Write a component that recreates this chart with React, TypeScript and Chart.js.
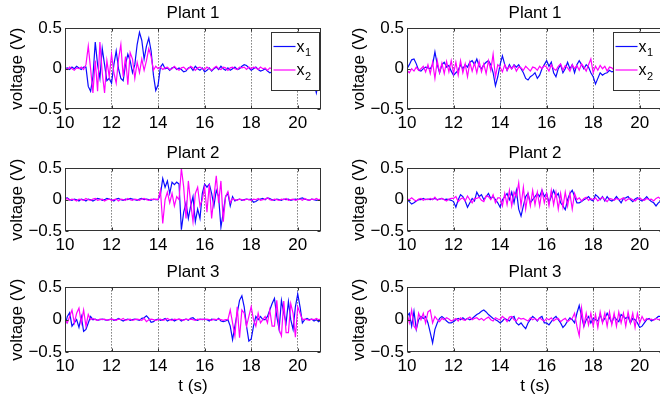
import React, { useEffect, useRef } from "react";
import { Chart, registerables } from "chart.js";

Chart.register(...registerables);

const FONT = "'Liberation Sans', Arial, Helvetica, sans-serif";

// time samples (s): 10.0 ... 21.0, every 0.1 s
const t: number[] = Array.from({ length: 111 }, (_, i) => (100 + i) / 10);

const xTicks = [10, 12, 14, 16, 18, 20];
const yTicks = [-0.5, 0, 0.5];
const yTickLabels = ["\u22120.5", "0", "0.5"];
const seriesNames = ["x1", "x2"];
const seriesColors = ["#0c0cff", "#ff00ff"];
const plantTitles = ["Plant 1", "Plant 2", "Plant 3"];
const yTitle = "voltage (V)";
const xTitle = "t (s)";

// ---------- Plant 1, left ----------
const plant1L_x1 = [
  0.0, 0.01, -0.01, 0.02, 0.0, 0.03, 0.01, -0.01, 0.02, 0.02,
  -0.22, -0.28, -0.1, 0.33, 0.05, -0.12, 0.25, 0.05, -0.15, -0.12,
  -0.18, 0.05, 0.22, 0.0, -0.12, -0.15, 0.05, 0.18, 0.1, -0.05,
  0.05, 0.3, 0.45, 0.35, 0.12, 0.28, 0.38, 0.22, -0.08, -0.27,
  -0.2, 0.02, 0.06, 0.0, 0.01, -0.02, 0.01, 0.02, -0.01, 0.01,
  -0.01, -0.04, -0.03, 0.01, 0.02, -0.02, 0.03, 0.0, -0.02, 0.01,
  -0.04, -0.02, 0.01, -0.03, 0.0, 0.02, -0.01, 0.03, 0.0, -0.02,
  0.01, -0.02, 0.0, 0.02, -0.01, 0.0, 0.03, 0.05, 0.04, 0.01,
  -0.02, 0.0, 0.02, -0.01, -0.03, -0.02, 0.0, -0.03, -0.05, -0.04,
  -0.03, -0.05, -0.03, -0.02, -0.04, -0.02, -0.03, -0.05, -0.03, -0.02,
  -0.03, -0.04, -0.02, -0.03, -0.05, -0.04, -0.08, -0.18, -0.3, -0.15,
  -0.14,
];
const plant1L_x2 = [
  0.01, -0.01, 0.02, 0.0, -0.02, 0.01, 0.0, 0.02, -0.01, 0.05,
  0.28, 0.0, -0.3, 0.1, -0.28, 0.33, -0.05, -0.3, 0.1, -0.1,
  0.18, -0.05, -0.18, 0.12, 0.3, -0.1, 0.15, -0.2, 0.2, 0.12,
  -0.12, 0.08, -0.05, 0.12, -0.02, 0.1, 0.25, 0.15, -0.02, 0.03,
  0.0, 0.02, -0.01, 0.01, 0.02, -0.01, 0.0, 0.03, 0.0, -0.02,
  0.01, 0.02, -0.01, 0.0, 0.03, 0.01, -0.02, 0.01, 0.02, 0.0,
  -0.01, 0.02, 0.0, -0.02, 0.01, 0.03, 0.0, -0.01, 0.02, 0.01,
  -0.02, 0.01, 0.02, 0.0, -0.01, 0.02, 0.01, 0.02, -0.01, 0.02,
  0.0, 0.02, 0.01, -0.01, 0.02, 0.0, 0.01, -0.02, 0.01, 0.0,
  0.01, -0.01, 0.02, 0.0, 0.01, -0.02, 0.01, 0.0, 0.02, -0.01,
  0.0, 0.01, -0.02, 0.01, 0.0, -0.01, 0.02, 0.0, -0.05, 0.05,
  -0.05,
];

// ---------- Plant 1, right ----------
const plant1R_x1 = [
  0.0, 0.05, 0.11, 0.12, 0.06, -0.02, -0.03, 0.0, 0.02, 0.01,
  0.0, 0.05, 0.21, 0.05, -0.05, 0.05, 0.08, 0.02, 0.04, -0.03,
  -0.08, -0.05, -0.02, 0.05, 0.0, 0.05, 0.02, 0.08, 0.1, 0.05,
  0.12, 0.03, 0.0, 0.05, 0.08, 0.1, 0.05, -0.05, -0.21, -0.1,
  0.05, 0.16, 0.05, -0.02, 0.05, 0.0, 0.05, 0.02, 0.05, 0.0,
  -0.05, -0.12, -0.14, -0.1, -0.08, -0.05, -0.12, -0.08, 0.0, 0.05,
  0.1, 0.03, 0.08, -0.05, -0.1, 0.0, 0.05, -0.05, 0.0, 0.08,
  0.0, 0.05, -0.05, 0.05, 0.1, 0.05, 0.0, 0.05, 0.02, -0.05,
  -0.1, -0.19, -0.12, -0.05, -0.08, -0.06, -0.05, -0.02, -0.04, -0.03,
  -0.02, 0.0, 0.02, -0.01, 0.01, 0.0, -0.02, 0.01, 0.0, 0.02,
  0.0, -0.02, 0.01, 0.0, 0.02, -0.01, 0.0, 0.01, -0.01, 0.0,
  0.0,
];
const plant1R_x2 = [
  -0.02, -0.05, 0.0, -0.03, 0.02, -0.02, 0.0, 0.03, -0.04, 0.05,
  -0.06, 0.08, -0.12, 0.1, -0.05, 0.07, -0.06, 0.09, -0.04, 0.1,
  -0.06, 0.08, -0.08, 0.1, -0.05, 0.06, -0.1, 0.08, -0.03, 0.07,
  -0.05, 0.09, -0.04, 0.06, -0.06, 0.1, -0.02, 0.18, -0.1, 0.05,
  0.02, -0.04, 0.05, -0.02, 0.03, 0.0, 0.04, -0.03, 0.02, 0.01,
  -0.02, 0.03, 0.0, -0.03, 0.02, 0.01, -0.02, 0.03, 0.0, 0.04,
  0.02, -0.03, 0.05, 0.0, -0.02, 0.03, 0.06, -0.02, 0.04, 0.01,
  -0.03, 0.05, 0.0, 0.04, -0.02, 0.06, 0.02, -0.03, 0.05, 0.12,
  -0.05, 0.03, -0.02, 0.04, 0.0, 0.03, -0.03, 0.02, 0.01, -0.02,
  0.02, 0.0, -0.02, 0.01, 0.02, -0.01, 0.0, 0.02, -0.02, 0.01,
  0.0, -0.02, 0.03, 0.0, -0.05, 0.02, 0.0, -0.02, 0.01, 0.03,
  0.0,
];

// ---------- Plant 2, left ----------
const plant2L_x1 = [
  0.02, 0.03, 0.0, -0.01, 0.01, 0.0, -0.02, 0.01, 0.0, -0.02,
  0.01, 0.0, -0.02, 0.0, 0.02, 0.01, -0.01, 0.0, 0.02, 0.01,
  0.0, -0.02, 0.01, 0.02, 0.0, -0.01, 0.01, 0.0, 0.02, 0.01,
  0.0, -0.01, 0.01, 0.02, 0.0, 0.01, 0.0, -0.01, 0.01, 0.0,
  0.0, 0.08, 0.34, 0.2, 0.3, 0.1, 0.28, 0.24, 0.28, 0.25,
  -0.48, -0.2, -0.05, -0.3, -0.1, 0.05, -0.35, -0.15, -0.3, 0.1,
  0.25, 0.2, 0.25, 0.1, -0.1, 0.15, 0.05, -0.44, -0.2, 0.05,
  0.1, -0.1, 0.05, -0.02, 0.0, 0.01, -0.01, 0.0, 0.01, 0.0,
  0.01, -0.04, -0.03, 0.0, 0.01, 0.02, 0.0, 0.03, 0.02, 0.0,
  -0.01, 0.01, 0.0, -0.01, 0.01, 0.0, 0.01, -0.01, 0.0, 0.01,
  0.0, 0.02, 0.03, 0.01, 0.0, -0.01, 0.01, 0.0, -0.01, 0.0,
  0.0,
];
const plant2L_x2 = [
  0.0, 0.02, -0.01, 0.01, 0.0, -0.02, 0.01, 0.0, -0.01, 0.02,
  0.0, -0.01, 0.01, 0.02, -0.01, 0.0, 0.01, -0.02, 0.0, 0.01,
  -0.01, 0.0, 0.01, -0.02, 0.01, 0.0, -0.01, 0.02, 0.0, -0.01,
  0.01, 0.0, -0.01, 0.01, 0.02, 0.0, -0.01, 0.01, 0.0, 0.01,
  0.0, 0.15, -0.38, 0.0, 0.12, -0.05, 0.1, -0.1, 0.05, 0.0,
  0.5, 0.2, -0.3, 0.3, -0.05, -0.35, 0.1, 0.2, -0.1, 0.0,
  0.2, -0.2, 0.25, -0.3, 0.05, 0.38, -0.05, 0.3, -0.35, 0.05,
  0.13, -0.05, 0.02, 0.0, -0.01, 0.01, 0.0, -0.01, 0.01, 0.0,
  -0.01, 0.01, 0.0, 0.02, -0.01, 0.0, 0.01, 0.03, 0.0, -0.01,
  0.01, 0.0, -0.01, 0.01, 0.0, 0.02, -0.01, 0.0, 0.01, -0.01,
  0.0, 0.01, -0.01, 0.02, 0.0, -0.01, 0.01, 0.0, 0.02, 0.0,
  0.01,
];

// ---------- Plant 2, right ----------
const plant2R_x1 = [
  0.0, -0.03, -0.07, -0.05, -0.02, 0.0, 0.0, 0.02, 0.0, 0.01,
  0.0, 0.01, 0.02, 0.0, 0.01, 0.02, 0.0, 0.01, 0.0, -0.01,
  -0.03, -0.12, 0.0, 0.08, 0.05, -0.02, -0.12, -0.05, 0.02, -0.02,
  0.12, 0.05, 0.08, 0.0, 0.05, 0.1, 0.02, 0.05, 0.0, -0.05,
  -0.12, 0.0, 0.05, 0.1, 0.0, 0.12, -0.05, 0.15, -0.15, -0.26,
  -0.1, 0.05, 0.1, -0.05, 0.0, 0.05, 0.1, 0.05, 0.15, 0.05,
  0.1, -0.05, 0.05, 0.15, 0.05, 0.1, -0.05, -0.1, -0.16, 0.0,
  0.1, 0.15, 0.05, -0.05, -0.05, -0.03, 0.0, 0.02, 0.05, 0.0,
  -0.02, 0.08, 0.05, 0.0, 0.05, -0.02, 0.05, 0.0, -0.02, 0.0,
  0.05, 0.0, -0.05, 0.02, 0.03, 0.05, 0.0, -0.03, 0.01, 0.03,
  0.0, -0.02, 0.01, 0.05, 0.0, -0.03, -0.05, -0.1, -0.05, -0.02,
  0.0,
];
const plant2R_x2 = [
  0.01, 0.0, 0.03, 0.0, -0.02, 0.01, 0.02, -0.01, 0.01, 0.0,
  0.02, 0.0, 0.04, -0.01, 0.01, 0.02, 0.0, -0.02, 0.01, 0.02,
  0.02, 0.05, -0.03, 0.01, 0.03, -0.02, 0.06, 0.0, -0.05, 0.02,
  0.02, 0.04, -0.01, -0.03, 0.06, 0.05, 0.0, 0.08, -0.05, 0.03,
  0.03, -0.1, 0.1, -0.08, 0.15, -0.1, 0.12, 0.05, 0.27, -0.1,
  0.2, -0.15, 0.1, -0.1, 0.15, -0.08, 0.12, -0.1, 0.15, -0.05,
  0.1, -0.1, 0.15, -0.08, 0.12, -0.15, 0.1, -0.12, 0.12, -0.1,
  0.1, -0.15, 0.1, 0.0, 0.03, -0.02, 0.02, 0.04, -0.01, 0.02,
  0.0, 0.03, -0.02, 0.01, 0.04, 0.0, -0.03, 0.02, 0.01, -0.01,
  0.02, 0.0, 0.01, 0.03, -0.02, 0.01, 0.02, 0.0, -0.02, 0.01,
  0.03, 0.0, -0.01, 0.02, 0.0, 0.01, -0.02, 0.02, 0.04, 0.01,
  0.0,
];

// ---------- Plant 3, left ----------
const plant3L_x1 = [
  -0.1, 0.05, 0.11, -0.1, -0.05, 0.0, -0.12, 0.05, -0.18, -0.15,
  -0.05, 0.05, 0.0, 0.01, -0.01, 0.0, 0.01, 0.0, -0.01, 0.0,
  0.01, -0.01, 0.0, 0.02, 0.0, -0.02, 0.0, 0.01, -0.01, 0.0,
  0.01, 0.0, -0.01, 0.02, 0.03, 0.06, 0.02, -0.04, -0.03, 0.0,
  0.01, -0.01, 0.0, 0.02, -0.02, 0.0, 0.01, -0.02, 0.0, 0.01,
  -0.02, 0.0, 0.01, -0.01, 0.02, 0.03, 0.0, -0.01, 0.01, 0.0,
  0.01, 0.0, -0.02, 0.01, 0.0, -0.01, 0.02, -0.02, -0.03, -0.02,
  0.0, -0.1, -0.31, -0.1, 0.1, 0.3, 0.37, 0.2, -0.1, -0.33,
  -0.3, -0.1, 0.05, 0.0, 0.05, 0.0, 0.0, 0.05, 0.15, 0.25,
  0.33, 0.05, -0.15, 0.3, 0.1, -0.05, 0.28, 0.0, -0.15, 0.2,
  0.4, 0.2, -0.05, 0.0, 0.02, 0.0, 0.01, -0.02, 0.0, -0.03,
  0.0,
];
const plant3L_x2 = [
  0.0, -0.05, 0.05, 0.15, -0.05, 0.1, 0.18, -0.05, 0.15, -0.1,
  0.08, 0.0, 0.02, 0.0, -0.01, 0.01, 0.0, 0.01, -0.01, 0.0,
  0.01, 0.0, -0.01, 0.01, 0.0, 0.02, -0.01, 0.0, 0.01, -0.01,
  0.0, 0.01, 0.0, -0.01, 0.02, -0.03, 0.0, 0.01, 0.0, -0.01,
  0.0, 0.01, -0.01, 0.0, 0.02, 0.0, -0.01, 0.01, 0.0, 0.01,
  0.0, -0.01, 0.01, 0.0, 0.01, 0.0, -0.01, 0.01, 0.0, 0.01,
  0.0, 0.01, 0.0, -0.01, 0.01, 0.0, 0.01, 0.0, -0.01, 0.0,
  0.0, 0.15, -0.05, -0.25, 0.2, -0.28, 0.15, 0.1, -0.1, 0.05,
  0.2, 0.0, -0.1, 0.1, -0.05, 0.0, 0.05, -0.05, 0.15, -0.1,
  -0.1, 0.3, -0.15, -0.25, 0.29, -0.2, -0.2, 0.25, 0.1, -0.27,
  0.2, 0.1, 0.0, 0.01, 0.0, -0.01, 0.01, 0.0, 0.02, 0.0,
  0.01,
];

// ---------- Plant 3, right ----------
const plant3R_x1 = [
  0.05, 0.1, -0.1, 0.13, -0.15, 0.0, 0.05, 0.02, 0.05, -0.05,
  -0.2, -0.36, -0.15, -0.05, 0.02, 0.05, 0.02, -0.02, -0.05, -0.05,
  -0.03, 0.0, 0.02, 0.0, 0.03, 0.0, 0.02, 0.0, 0.02, 0.05,
  0.08, 0.1, 0.13, 0.15, 0.12, 0.08, 0.05, 0.02, 0.0, -0.02,
  -0.05, -0.02, 0.02, 0.0, -0.02, 0.03, 0.05, -0.05, -0.08, -0.05,
  -0.1, -0.14, -0.05, 0.0, 0.05, 0.02, -0.02, 0.03, 0.05, -0.05,
  -0.05, -0.08, -0.03, 0.02, 0.05, 0.0, -0.05, -0.12, -0.08, -0.02,
  0.03, 0.0, -0.05, 0.1, 0.22, 0.05, -0.1, 0.0, 0.05, -0.05,
  0.02, 0.0, -0.02, 0.08, -0.03, 0.02, 0.1, 0.03, -0.05, 0.05,
  0.0, -0.03, 0.08, 0.05, 0.02, 0.05, -0.05, 0.02, 0.0, -0.05,
  -0.12, -0.1, -0.05, 0.0, 0.02, -0.02, 0.0, 0.02, 0.05, 0.05,
  0.05,
];
const plant3R_x2 = [
  0.1, -0.05, 0.15, -0.1, -0.15, 0.1, 0.0, 0.1, -0.05, 0.12,
  0.15, -0.05, 0.05, 0.0, -0.03, 0.02, 0.0, 0.03, 0.01, -0.02,
  0.0, 0.02, -0.02, 0.03, 0.0, -0.01, 0.02, 0.04, 0.0, 0.02,
  0.03, 0.0, 0.02, -0.01, 0.02, 0.04, 0.0, -0.02, 0.03, 0.01,
  0.0, 0.05, 0.02, -0.03, 0.04, 0.05, 0.0, -0.02, 0.03, 0.01,
  0.02, 0.0, -0.02, 0.03, 0.0, 0.02, -0.01, 0.03, 0.0, -0.02,
  0.02, 0.0, 0.03, -0.02, 0.01, 0.02, -0.03, 0.0, 0.02, -0.03,
  0.0, 0.02, 0.1, -0.1, -0.25, 0.18, -0.1, 0.1, -0.08, 0.1,
  -0.1, 0.08, -0.12, 0.12, -0.05, 0.1, -0.1, 0.12, -0.08, 0.1,
  -0.1, 0.12, -0.05, 0.1, -0.1, 0.12, -0.05, 0.1, -0.12, 0.1,
  -0.05, 0.05, -0.02, 0.02, 0.0, 0.01, -0.01, 0.02, 0.0, 0.01,
  0.0,
];

const panelSeries = [
  [plant1L_x1, plant1L_x2],
  [plant1R_x1, plant1R_x2],
  [plant2L_x1, plant2L_x2],
  [plant2R_x1, plant2R_x2],
  [plant3L_x1, plant3L_x2],
  [plant3R_x1, plant3R_x2],
];

// layout (pixels)
const ROWS = [
  { top: 0, height: 135, xh: 26 },
  { top: 140, height: 117, xh: 26 },
  { top: 259, height: 139, xh: 46 },
];
const COL_LEFT = [0, 342];
const CANVAS_W = 330;

const framePlugin = {
  id: "matlabFrame",
  afterDatasetsDraw(chart: any) {
    const { ctx, chartArea: a, scales } = chart;
    const L = Math.round(a.left) + 0.5;
    const R = Math.round(a.right) - 0.5;
    const T = Math.round(a.top) + 0.5;
    const B = Math.round(a.bottom) - 0.5;
    ctx.save();
    ctx.strokeStyle = "#333";
    ctx.lineWidth = 1;
    ctx.setLineDash([]);
    ctx.strokeRect(L, T, R - L, B - T);
    const tl = 3;
    ctx.beginPath();
    scales.x.ticks.forEach((tk: any) => {
      const x = Math.round(scales.x.getPixelForValue(tk.value)) + 0.5;
      ctx.moveTo(x, B);
      ctx.lineTo(x, B - tl);
      ctx.moveTo(x, T);
      ctx.lineTo(x, T + tl);
    });
    scales.y.ticks.forEach((tk: any) => {
      const y = Math.round(scales.y.getPixelForValue(tk.value)) + 0.5;
      ctx.moveTo(L, y);
      ctx.lineTo(L + tl, y);
      ctx.moveTo(R, y);
      ctx.lineTo(R - tl, y);
    });
    ctx.stroke();
    ctx.restore();
  },
};

const legendPlugin = {
  id: "insetLegend",
  afterDraw(chart: any) {
    const { ctx, chartArea: a } = chart;
    const bw = 48;
    const bh = 58;
    const bx = Math.round(a.right) - bw - 2 + 0.5;
    const by = Math.round(a.top) + 4 + 0.5;
    ctx.save();
    ctx.fillStyle = "#fff";
    ctx.fillRect(bx, by, bw, bh);
    ctx.strokeStyle = "#333";
    ctx.lineWidth = 1;
    ctx.strokeRect(bx, by, bw, bh);
    chart.data.datasets.forEach((ds: any, i: number) => {
      const ly = by + 14 + i * 23.5;
      ctx.strokeStyle = ds.borderColor;
      ctx.lineWidth = 1.2;
      ctx.beginPath();
      ctx.moveTo(bx + 2, ly);
      ctx.lineTo(bx + 24, ly);
      ctx.stroke();
      const name: string = ds.label;
      ctx.fillStyle = "#000";
      ctx.textAlign = "left";
      ctx.textBaseline = "alphabetic";
      ctx.font = `16px ${FONT}`;
      ctx.fillText(name.charAt(0), bx + 25, ly + 5);
      const w = ctx.measureText(name.charAt(0)).width;
      ctx.font = `11px ${FONT}`;
      ctx.fillText(name.slice(1), bx + 25 + w + 0.5, ly + 9.5);
    });
    ctx.restore();
  },
};

type PanelProps = {
  index: number;
};

function Panel({ index }: PanelProps) {
  const ref = useRef<HTMLCanvasElement | null>(null);
  const row = Math.floor(index / 2);
  const col = index % 2;
  const geom = ROWS[row];
  const left = COL_LEFT[col];

  useEffect(() => {
    if (!ref.current) return;
    const font = { family: FONT, size: 17, weight: "normal" as const };
    const series = panelSeries[index];
    const chart = new Chart(ref.current, {
      type: "line",
      data: {
        datasets: series.map((vals, i) => ({
          label: seriesNames[i],
          data: t.map((x, j) => ({ x, y: vals[j] })),
          borderColor: seriesColors[i],
          backgroundColor: seriesColors[i],
          borderWidth: 1.2,
          pointRadius: 0,
          tension: 0,
          fill: false,
          order: i === 0 ? 1 : 0,
        })),
      },
      options: {
        animation: false,
        responsive: false,
        devicePixelRatio: 1,
        events: [],
        layout: { padding: { left: 0, right: 9, top: 0, bottom: 0 } },
        plugins: {
          legend: { display: false },
          tooltip: { enabled: false },
          title: {
            display: true,
            text: plantTitles[row],
            fullSize: false,
            color: "#000",
            font,
            padding: { top: 3, bottom: 5 },
          },
        },
        scales: {
          x: {
            type: "linear",
            min: 10,
            max: 21,
            afterBuildTicks: (s: any) => {
              s.ticks = xTicks.map((v) => ({ value: v }));
            },
            afterFit: (s: any) => {
              s.height = geom.xh;
            },
            grid: { display: true, drawTicks: false, color: "#3a3a3a", lineWidth: 1 },
            border: { display: false, dash: [1, 2] },
            ticks: {
              autoSkip: false,
              maxRotation: 0,
              minRotation: 0,
              padding: 4,
              color: "#000",
              font,
              callback: (v: any) => String(v),
            },
            title: {
              display: row === 2,
              text: xTitle,
              color: "#000",
              font,
              padding: { top: 0, bottom: 1 },
            },
          },
          y: {
            type: "linear",
            min: -0.5,
            max: 0.5,
            afterBuildTicks: (s: any) => {
              s.ticks = yTicks.map((v) => ({ value: v }));
            },
            afterFit: (s: any) => {
              s.width = 65;
            },
            grid: { display: false, drawTicks: false },
            border: { display: false },
            ticks: {
              padding: 3,
              color: "#000",
              font,
              callback: (_v: any, i: number) => yTickLabels[i],
            },
            title: {
              display: true,
              text: yTitle,
              color: "#000",
              font,
              padding: { top: 7, bottom: 0 },
            },
          },
        },
      } as any,
      plugins: row === 0 ? [framePlugin, legendPlugin] : [framePlugin],
    });
    return () => chart.destroy();
  }, [index]);

  return (
    <canvas
      ref={ref}
      width={CANVAS_W}
      height={geom.height}
      style={{
        position: "absolute",
        left,
        top: geom.top,
        width: CANVAS_W,
        height: geom.height,
      }}
    />
  );
}

export default function App() {
  return (
    <div
      style={{
        position: "absolute",
        left: 0,
        top: 0,
        width: 660,
        height: 398,
        overflow: "hidden",
        background: "#fff",
      }}
    >
      {[0, 1, 2, 3, 4, 5].map((i) => (
        <Panel key={i} index={i} />
      ))}
    </div>
  );
}
